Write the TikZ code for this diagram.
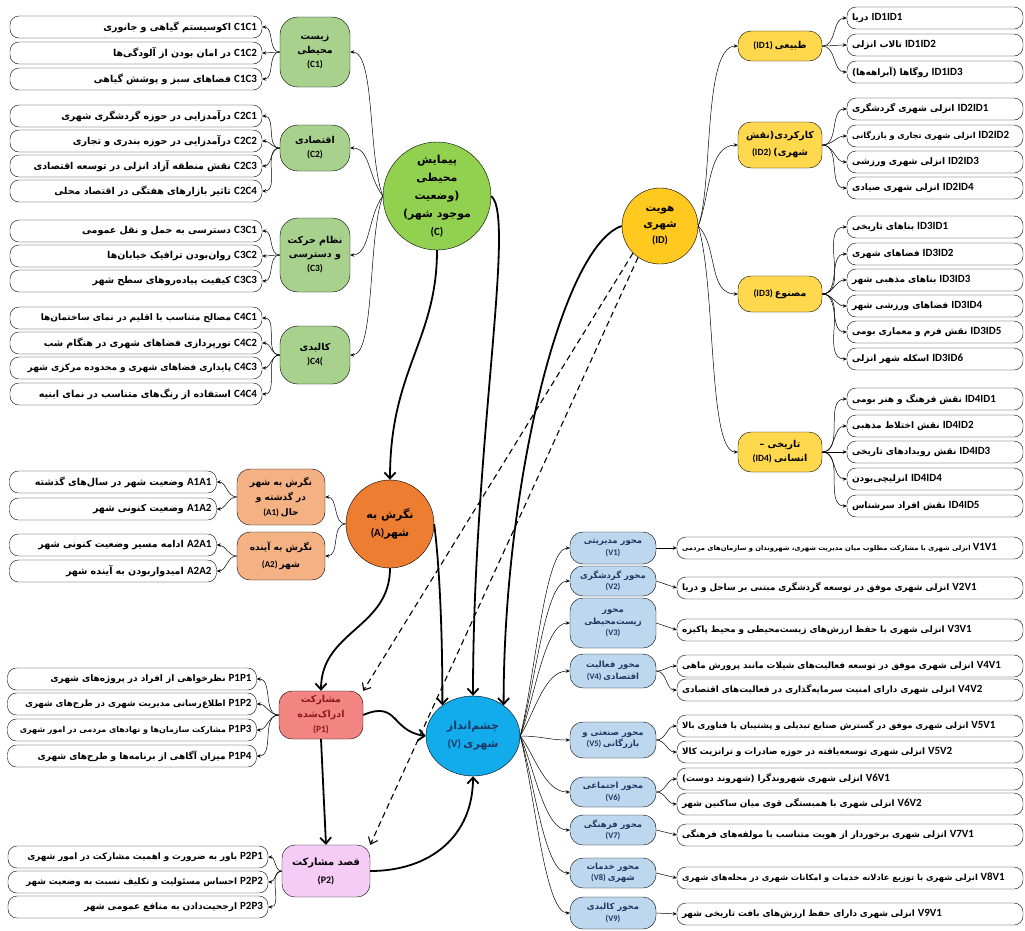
\documentclass[tikz,border=0pt]{standalone}
\usepackage{fontspec}
\setmainfont{Carlito}
\newfontfamily\farsi[Script=Arabic]{DejaVu Sans}
\TeXXeTstate=1
\usetikzlibrary{arrows.meta,shapes.geometric}
\newcommand\fa[1]{\mbox{\farsi\beginR #1\endR}}
\newcommand\cod[1]{{\fontsize{11}{11}\selectfont\bfseries #1}}
\definecolor{cgreen}{HTML}{92D050}
\definecolor{cpale}{HTML}{A9D18E}
\definecolor{idgold}{HTML}{FFC91F}
\definecolor{idpale}{HTML}{FFD84D}
\definecolor{aorange}{HTML}{ED7D31}
\definecolor{apale}{HTML}{F4B183}
\definecolor{pred}{HTML}{F28482}
\definecolor{ppink}{HTML}{F5CCF5}
\definecolor{vblue}{HTML}{12ABEB}
\definecolor{vpale}{HTML}{BDD7EE}
\definecolor{vtext}{HTML}{1F3864}
\definecolor{ptext}{HTML}{8B1A1A}
\tikzset{
  branch/.style={-{Stealth[length=4pt,width=3.5pt]}, line width=0.5pt},
  flow/.style={-{Straight Barb[length=6pt,width=11pt]}, line width=1.8pt},
  hint/.style={dash pattern=on 6pt off 4pt, -{Straight Barb[length=6pt,width=10pt]}, line width=1.1pt},
  leftbox/.style={draw, rounded corners=9pt, text width=#1, align=right, minimum height=22pt, inner xsep=5pt, inner ysep=0pt, font=\bfseries\fontsize{9.5}{11}\selectfont},
  rightbox/.style={leftbox=#1, align=left},
  hub/.style={draw, align=center, inner sep=0pt, font=\bfseries\fontsize{11}{18}\selectfont},
  pill/.style={draw, rounded corners=13pt, align=center, inner sep=1pt, minimum width=84pt, font=\bfseries\fontsize{9.5}{14}\selectfont},
  vpill/.style={pill, fill=vpale, text=vtext, minimum width=86pt, font=\bfseries\fontsize{8.5}{11.5}\selectfont},
}
\begin{document}
\begin{tikzpicture}[x=1pt,y=-1pt]
\fill[white] (0,0) rectangle (1025,930);
\useasboundingbox (0,0) rectangle (1025,930);

% main concepts
\node[hub, circle, fill=cgreen, minimum size=108pt] (C) at (437,196) {\fa{پیمایش}\\\fa{محیطی}\\\fa{(وضعیت}\\\fa{موجود شهر)}\\(C)};
\node[hub, circle, fill=idgold, minimum size=76pt, font=\bfseries\fontsize{10.5}{16}\selectfont] (ID) at (660,226) {\fa{هویت}\\\fa{شهری}\\(ID)};
\node[hub, circle, fill=aorange, minimum size=88pt] (A) at (390,524) {\fa{نگرش به}\\(A)\fa{شهر}};
\node[hub, ellipse, fill=vblue, text=vtext, minimum width=94pt, minimum height=80pt] (V) at (473,736) {\fa{چشم‌انداز}\\(V)~\fa{شهری}};
\node[pill, fill=pred, text=ptext, minimum height=48pt, font=\bfseries\fontsize{9.5}{15}\selectfont] (P1) at (321,715) {\fa{مشارکت}\\\fa{ادراک‌شده}\\(P1)};
\node[pill, fill=ppink, minimum width=88pt, minimum height=52pt, font=\bfseries\fontsize{10}{18}\selectfont] (P2) at (326,871) {\fa{قصد مشارکت}\\(P2)};

% C parts
\node[pill, fill=cpale, minimum width=70pt, minimum height=70pt, rounded corners=18pt] (C1) at (315,52) {\fa{زیست}\\\fa{محیطی}\\(C1)};
\node[pill, fill=cpale, minimum width=70pt, minimum height=46pt, rounded corners=18pt] (C2) at (315,148) {\fa{اقتصادی}\\(C2)};
\node[pill, fill=cpale, minimum width=70pt, minimum height=74pt, rounded corners=18pt] (C3) at (315,255) {\fa{نظام حرکت}\\\fa{و دسترسی}\\(C3)};
\node[pill, fill=cpale, minimum width=70pt, minimum height=58pt, rounded corners=18pt] (C4) at (315,355) {\fa{کالبدی}\\)C4(};

\node[leftbox=242pt] (C1C1) at (136,27) {\fa{اکوسیستم گیاهی و جانوری}~\cod{C1C1}};
\node[leftbox=242pt] (C1C2) at (136,53) {\fa{در امان بودن از آلودگی‌ها}~\cod{C1C2}};
\node[leftbox=242pt] (C1C3) at (136,79) {\fa{فضاهای سبز و پوشش گیاهی}~\cod{C1C3}};
\node[leftbox=242pt] (C2C1) at (136,116) {\fa{درآمدزایی در حوزه گردشگری شهری}~\cod{C2C1}};
\node[leftbox=242pt] (C2C2) at (136,141) {\fa{درآمدزایی در حوزه بندری و تجاری}~\cod{C2C2}};
\node[leftbox=242pt] (C2C3) at (136,166) {\fa{نقش منطقه آزاد انزلی در توسعه اقتصادی}~\cod{C2C3}};
\node[leftbox=242pt] (C2C4) at (136,191) {\fa{تاثیر بازارهای هفتگی در اقتصاد محلی}~\cod{C2C4}};
\node[leftbox=242pt] (C3C1) at (136,231) {\fa{دسترسی به حمل و نقل عمومی}~\cod{C3C1}};
\node[leftbox=242pt] (C3C2) at (136,256) {\fa{روان‌بودن ترافیک خیابان‌ها}~\cod{C3C2}};
\node[leftbox=242pt] (C3C3) at (136,281) {\fa{کیفیت پیاده‌روهای سطح شهر}~\cod{C3C3}};
\node[leftbox=242pt, font=\bfseries\fontsize{9}{11}\selectfont] (C4C1) at (136,318) {\fa{مصالح متناسب با اقلیم در نمای ساختمان‌ها}~\cod{C4C1}};
\node[leftbox=242pt] (C4C2) at (136,343) {\fa{نورپردازی فضاهای شهری در هنگام شب}~\cod{C4C2}};
\node[leftbox=242pt, font=\bfseries\fontsize{9}{11}\selectfont] (C4C3) at (136,368) {\fa{پایداری فضاهای شهری و محدوده مرکزی شهر}~\cod{C4C3}};
\node[leftbox=242pt] (C4C4) at (136,394) {\fa{استفاده از رنگ‌های متناسب در نمای ابنیه}~\cod{C4C4}};

% ID parts
\node[pill, fill=idpale, minimum height=30pt] (ID1) at (780,46) {(ID1)~\fa{طبیعی}};
\node[pill, fill=idpale, minimum height=46pt, font=\bfseries\fontsize{9.5}{17}\selectfont] (ID2) at (780,145) {\fa{کارکردی(نقش}\\(ID2)~\fa{شهری)}};
\node[pill, fill=idpale, minimum height=36pt] (ID3) at (780,294) {(ID3)~\fa{مصنوع}};
\node[pill, fill=idpale, minimum height=40pt] (ID4) at (780,452) {\fa{تاریخی –}\\(ID4)~\fa{انسانی}};

\node[rightbox=166pt, font=\bfseries\fontsize{9}{11}\selectfont] (ID1ID1) at (935,18) {\fa{دریا}~\cod{ID1ID1}};
\node[rightbox=166pt, font=\bfseries\fontsize{9}{11}\selectfont] (ID1ID2) at (935,45) {\fa{تالاب انزلی}~\cod{ID1ID2}};
\node[rightbox=166pt, font=\bfseries\fontsize{9}{11}\selectfont] (ID1ID3) at (935,72) {\fa{روگاها (آبراهه‌ها)}~\cod{ID1ID3}};
\node[rightbox=166pt, font=\bfseries\fontsize{9}{11}\selectfont] (ID2ID1) at (935,109) {\fa{انزلی شهری گردشگری}~\cod{ID2ID1}};
\node[rightbox=166pt, font=\bfseries\fontsize{8.2}{11}\selectfont] (ID2ID2) at (935,136) {\fa{انزلی شهری تجاری و بازرگانی}~\cod{ID2ID2}};
\node[rightbox=166pt, font=\bfseries\fontsize{9}{11}\selectfont] (ID2ID3) at (935,162) {\fa{انزلی شهری ورزشی}~\cod{ID2ID3}};
\node[rightbox=166pt, font=\bfseries\fontsize{9}{11}\selectfont] (ID2ID4) at (935,188) {\fa{انزلی شهری صیادی}~\cod{ID2ID4}};
\node[rightbox=166pt, font=\bfseries\fontsize{9}{11}\selectfont] (ID3ID1) at (935,227) {\fa{بناهای تاریخی}~\cod{ID3ID1}};
\node[rightbox=166pt, font=\bfseries\fontsize{9}{11}\selectfont] (ID3ID2) at (935,254) {\fa{فضاهای شهری}~\cod{ID3ID2}};
\node[rightbox=166pt, font=\bfseries\fontsize{9}{11}\selectfont] (ID3ID3) at (935,280) {\fa{بناهای مذهبی شهر}~\cod{ID3ID3}};
\node[rightbox=166pt, font=\bfseries\fontsize{9}{11}\selectfont] (ID3ID4) at (935,306) {\fa{فضاهای ورزشی شهر}~\cod{ID3ID4}};
\node[rightbox=166pt, font=\bfseries\fontsize{9}{11}\selectfont] (ID3ID5) at (935,332) {\fa{نقش فرم و معماری بومی}~\cod{ID3ID5}};
\node[rightbox=166pt, font=\bfseries\fontsize{9}{11}\selectfont] (ID3ID6) at (935,359) {\fa{اسکله شهر انزلی}~\cod{ID3ID6}};
\node[rightbox=166pt, font=\bfseries\fontsize{9}{11}\selectfont] (ID4ID1) at (935,399) {\fa{نقش فرهنگ و هنر بومی}~\cod{ID4ID1}};
\node[rightbox=166pt, font=\bfseries\fontsize{9}{11}\selectfont] (ID4ID2) at (935,426) {\fa{نقش اختلاط مذهبی}~\cod{ID4ID2}};
\node[rightbox=166pt, font=\bfseries\fontsize{9}{11}\selectfont] (ID4ID3) at (935,452) {\fa{نقش رویدادهای تاریخی}~\cod{ID4ID3}};
\node[rightbox=166pt, font=\bfseries\fontsize{9}{11}\selectfont] (ID4ID4) at (935,479) {\fa{انزلیچی‌بودن}~\cod{ID4ID4}};
\node[rightbox=166pt, font=\bfseries\fontsize{9}{11}\selectfont] (ID4ID5) at (935,506) {\fa{نقش افراد سرشناس}~\cod{ID4ID5}};

% A parts
\node[pill, fill=apale, minimum width=88pt, minimum height=56pt, font=\bfseries\fontsize{9}{15}\selectfont] (A1) at (281,497) {\fa{نگرش به شهر}\\\fa{در گذشته و}\\(A1)~\fa{حال}};
\node[pill, fill=apale, minimum width=88pt, minimum height=48pt, font=\bfseries\fontsize{9}{17}\selectfont] (A2) at (281,556) {\fa{نگرش به آینده}\\(A2)~\fa{شهر}};

\node[leftbox=197pt] (A1A1) at (113,482) {\fa{وضعیت شهر در سال‌های گذشته}~\cod{A1A1}};
\node[leftbox=197pt] (A1A2) at (113,509) {\fa{وضعیت کنونی شهر}~\cod{A1A2}};
\node[leftbox=197pt] (A2A1) at (113,545) {\fa{ادامه مسیر وضعیت کنونی شهر}~\cod{A2A1}};
\node[leftbox=197pt] (A2A2) at (113,571) {\fa{امیدواربودن به آینده شهر}~\cod{A2A2}};

% P parts
\node[leftbox=239pt, font=\bfseries\fontsize{9}{11}\selectfont] (P1P1) at (132,679) {\fa{نظرخواهی از افراد در پروژه‌های شهری}~\cod{P1P1}};
\node[leftbox=239pt, font=\bfseries\fontsize{8.7}{11}\selectfont] (P1P2) at (132,704) {\fa{اطلاع‌رسانی مدیریت شهری در طرح‌های شهری}~\cod{P1P2}};
\node[leftbox=239pt, font=\bfseries\fontsize{8}{11}\selectfont] (P1P3) at (132,730) {\fa{مشارکت سازمان‌ها و نهادهای مردمی در امور شهری}~\cod{P1P3}};
\node[leftbox=239pt, font=\bfseries\fontsize{9}{11}\selectfont] (P1P4) at (132,756) {\fa{میزان آگاهی از برنامه‌ها و طرح‌های شهری}~\cod{P1P4}};
\node[leftbox=250pt, font=\bfseries\fontsize{8.8}{11}\selectfont] (P2P1) at (138,857) {\fa{باور به ضرورت و اهمیت مشارکت در امور شهری}~\cod{P2P1}};
\node[leftbox=250pt, font=\bfseries\fontsize{8.8}{11}\selectfont] (P2P2) at (138,882) {\fa{احساس مسئولیت و تکلیف نسبت به وضعیت شهر}~\cod{P2P2}};
\node[leftbox=250pt, font=\bfseries\fontsize{9}{11}\selectfont] (P2P3) at (138,907) {\fa{ارجحیت‌دادن به منافع عمومی شهر}~\cod{P2P3}};

% V parts
\node[vpill, minimum height=32pt] (V1) at (613,548) {\fa{محور مدیریتی}\\(V1)};
\node[vpill, minimum height=30pt] (V2) at (613,581) {\fa{محور گردشگری}\\(V2)};
\node[vpill, minimum height=50pt] (V3) at (613,623) {\fa{محور}\\\fa{زیست‌محیطی}\\(V3)};
\node[vpill, minimum height=34pt] (V4) at (613,671) {\fa{محور فعالیت}\\(V4)~\fa{اقتصادی}};
\node[vpill, minimum height=36pt] (V5) at (613,740) {\fa{محور صنعتی و}\\(V5)~\fa{بازرگانی}};
\node[vpill, minimum height=30pt] (V6) at (613,792) {\fa{محور اجتماعی}\\(V6)};
\node[vpill, minimum height=30pt] (V7) at (613,830) {\fa{محور فرهنگی}\\(V7)};
\node[vpill, minimum height=30pt] (V8) at (613,873) {\fa{محور خدمات}\\(V8)~\fa{شهری}};
\node[vpill, minimum height=32pt] (V9) at (613,913) {\fa{محور کالبدی}\\(V9)};

\node[rightbox=336pt, font=\bfseries\fontsize{6.8}{11}\selectfont] (V1V1) at (850,548) {\fa{انزلی شهری با مشارکت مطلوب میان مدیریت شهری، شهروندان و سازمان‌های مردمی}~\cod{V1V1}};
\node[rightbox=336pt, font=\bfseries\fontsize{8.8}{11}\selectfont] (V2V1) at (850,588) {\fa{انزلی شهری موفق در توسعه گردشگری مبتنی بر ساحل و دریا}~\cod{V2V1}};
\node[rightbox=336pt, font=\bfseries\fontsize{8.8}{11}\selectfont] (V3V1) at (850,630) {\fa{انزلی شهری با حفظ ارزش‌های زیست‌محیطی و محیط پاکیزه}~\cod{V3V1}};
\node[rightbox=336pt, font=\bfseries\fontsize{8.8}{11}\selectfont] (V4V1) at (850,666) {\fa{انزلی شهری موفق در توسعه فعالیت‌های شیلات مانند پرورش ماهی}~\cod{V4V1}};
\node[rightbox=336pt, font=\bfseries\fontsize{8.8}{11}\selectfont] (V4V2) at (850,690) {\fa{انزلی شهری دارای امنیت سرمایه‌گذاری در فعالیت‌های اقتصادی}~\cod{V4V2}};
\node[rightbox=336pt, font=\bfseries\fontsize{8.5}{11}\selectfont] (V5V1) at (850,726) {\fa{انزلی شهری موفق در گسترش صنایع تبدیلی و پشتیبان با فناوری بالا}~\cod{V5V1}};
\node[rightbox=336pt, font=\bfseries\fontsize{8.8}{11}\selectfont] (V5V2) at (850,752) {\fa{انزلی شهری توسعه‌یافته در حوزه صادرات و ترانزیت کالا}~\cod{V5V2}};
\node[rightbox=336pt, font=\bfseries\fontsize{8.8}{11}\selectfont] (V6V1) at (850,779) {\fa{انزلی شهری شهروندگرا (شهروند دوست)}~\cod{V6V1}};
\node[rightbox=336pt, font=\bfseries\fontsize{8.8}{11}\selectfont] (V6V2) at (850,804) {\fa{انزلی شهری با همبستگی قوی میان ساکنین شهر}~\cod{V6V2}};
\node[rightbox=336pt, font=\bfseries\fontsize{8.8}{11}\selectfont] (V7V1) at (850,835) {\fa{انزلی شهری برخوردار از هویت متناسب با مولفه‌های فرهنگی}~\cod{V7V1}};
\node[rightbox=336pt, font=\bfseries\fontsize{8.3}{11}\selectfont] (V8V1) at (850,878) {\fa{انزلی شهری با توزیع عادلانه خدمات و امکانات شهری در محله‌های شهری}~\cod{V8V1}};
\node[rightbox=336pt, font=\bfseries\fontsize{8.8}{11}\selectfont] (V9V1) at (850,914) {\fa{انزلی شهری دارای حفظ ارزش‌های بافت تاریخی شهر}~\cod{V9V1}};

% thin branches
\draw[branch] (C.west) .. controls +(-15,-40) and +(25,0) .. (C1.east);
\draw[branch] (C.west) .. controls +(-15,-20) and +(20,0) .. (C2.east);
\draw[branch] (C.west) .. controls +(-15,20) and +(20,0) .. (C3.east);
\draw[branch] (C.west) .. controls +(-15,40) and +(25,0) .. (C4.east);
\draw[branch] (C1.west) to[out=180,in=0] (C1C1.east);
\draw[branch] (C1.west) to[out=180,in=0] (C1C2.east);
\draw[branch] (C1.west) to[out=180,in=0] (C1C3.east);
\draw[branch] (C2.west) to[out=180,in=0] (C2C1.east);
\draw[branch] (C2.west) to[out=180,in=0] (C2C2.east);
\draw[branch] (C2.west) to[out=180,in=0] (C2C3.east);
\draw[branch] (C2.west) to[out=180,in=0] (C2C4.east);
\draw[branch] (C3.west) to[out=180,in=0] (C3C1.east);
\draw[branch] (C3.west) to[out=180,in=0] (C3C2.east);
\draw[branch] (C3.west) to[out=180,in=0] (C3C3.east);
\draw[branch] (C4.west) to[out=180,in=0] (C4C1.east);
\draw[branch] (C4.west) to[out=180,in=0] (C4C2.east);
\draw[branch] (C4.west) to[out=180,in=0] (C4C3.east);
\draw[branch] (C4.west) to[out=180,in=0] (C4C4.east);

\draw[branch] (ID.east) .. controls +(15,-40) and +(-35,0) .. (ID1.west);
\draw[branch] (ID.east) .. controls +(12,-30) and +(-30,0) .. (ID2.west);
\draw[branch] (ID.east) .. controls +(20,20) and +(-30,0) .. (ID3.west);
\draw[branch] (ID.east) .. controls +(18,60) and +(-30,0) .. (ID4.west);
\draw[branch] (ID1.east) to[out=0,in=180] (ID1ID1.west);
\draw[branch] (ID1.east) to[out=0,in=180] (ID1ID2.west);
\draw[branch] (ID1.east) to[out=0,in=180] (ID1ID3.west);
\draw[branch] (ID2.east) to[out=0,in=180] (ID2ID1.west);
\draw[branch] (ID2.east) to[out=0,in=180] (ID2ID2.west);
\draw[branch] (ID2.east) to[out=0,in=180] (ID2ID3.west);
\draw[branch] (ID2.east) to[out=0,in=180] (ID2ID4.west);
\draw[branch] (ID3.east) to[out=0,in=180] (ID3ID1.west);
\draw[branch] (ID3.east) to[out=0,in=180] (ID3ID2.west);
\draw[branch] (ID3.east) to[out=0,in=180] (ID3ID3.west);
\draw[branch] (ID3.east) to[out=0,in=180] (ID3ID4.west);
\draw[branch] (ID3.east) to[out=0,in=180] (ID3ID5.west);
\draw[branch] (ID3.east) to[out=0,in=180] (ID3ID6.west);
\draw[branch] (ID4.east) to[out=0,in=180] (ID4ID1.west);
\draw[branch] (ID4.east) to[out=0,in=180] (ID4ID2.west);
\draw[branch] (ID4.east) to[out=0,in=180] (ID4ID3.west);
\draw[branch] (ID4.east) to[out=0,in=180] (ID4ID4.west);
\draw[branch] (ID4.east) to[out=0,in=180] (ID4ID5.west);

\draw[branch] (A.west) to[out=180,in=0] (A1.east);
\draw[branch] (A.west) to[out=180,in=0] (A2.east);
\draw[branch] (A1.west) to[out=180,in=0] (A1A1.east);
\draw[branch] (A1.west) to[out=180,in=0] (A1A2.east);
\draw[branch] (A2.west) to[out=180,in=0] (A2A1.east);
\draw[branch] (A2.west) to[out=180,in=0] (A2A2.east);

\draw[branch] (P1.west) to[out=180,in=0] (P1P1.east);
\draw[branch] (P1.west) to[out=180,in=0] (P1P2.east);
\draw[branch] (P1.west) to[out=180,in=0] (P1P3.east);
\draw[branch] (P1.west) to[out=180,in=0] (P1P4.east);
\draw[branch] (P2.west) to[out=180,in=0] (P2P1.east);
\draw[branch] (P2.west) to[out=180,in=0] (P2P2.east);
\draw[branch] (P2.west) to[out=180,in=0] (P2P3.east);

\draw[branch] (V.east) .. controls +(15,-60) and +(-25,0) .. (V1.west);
\draw[branch] (V.east) .. controls +(15,-50) and +(-25,0) .. (V2.west);
\draw[branch] (V.east) .. controls +(15,-40) and +(-25,0) .. (V3.west);
\draw[branch] (V.east) .. controls +(15,-25) and +(-25,0) .. (V4.west);
\draw[branch] (V.east) .. controls +(20,0) and +(-20,0) .. (V5.west);
\draw[branch] (V.east) .. controls +(15,20) and +(-25,0) .. (V6.west);
\draw[branch] (V.east) .. controls +(15,35) and +(-25,0) .. (V7.west);
\draw[branch] (V.east) .. controls +(15,50) and +(-25,0) .. (V8.west);
\draw[branch] (V.east) .. controls +(15,60) and +(-25,0) .. (V9.west);
\draw[branch] (V1.east) -- (V1V1.west);
\draw[branch] (V2.east) -- (V2V1.west);
\draw[branch] (V3.east) -- (V3V1.west);
\draw[branch] (V4.east) to[out=0,in=180] (V4V1.west);
\draw[branch] (V4.east) to[out=0,in=180] (V4V2.west);
\draw[branch] (V5.east) to[out=0,in=180] (V5V1.west);
\draw[branch] (V5.east) to[out=0,in=180] (V5V2.west);
\draw[branch] (V6.east) to[out=0,in=180] (V6V1.west);
\draw[branch] (V6.east) to[out=0,in=180] (V6V2.west);
\draw[branch] (V7.east) -- (V7V1.west);
\draw[branch] (V8.east) -- (V8V1.west);
\draw[branch] (V9.east) -- (V9V1.west);

% main paths
\draw[flow] (C.south) .. controls +(0,90) and +(0,-110) .. (A.north);
\draw[flow] (C.east) .. controls +(25,20) and +(0,-250) .. (V.north);
\draw[flow] (ID.west) .. controls +(-60,20) and +(0,-220) .. (V.45);
\draw[flow] (A.east) .. controls +(5,40) and +(0,-80) .. (V.135);
\draw[flow] (A.south) .. controls +(0,60) and +(0,-60) .. (P1.north);
\draw[flow] (P1.east) .. controls +(35,-15) and +(-35,-5) .. (V.west);
\draw[flow] (P1.south) -- (P2.north);
\draw[flow] (P2.east) .. controls +(60,0) and +(0,60) .. (V.south);
\draw[hint] (ID.225) -- (P1.north east);
\draw[hint] (ID.235) -- (P2.north east);
\end{tikzpicture}
\end{document}
